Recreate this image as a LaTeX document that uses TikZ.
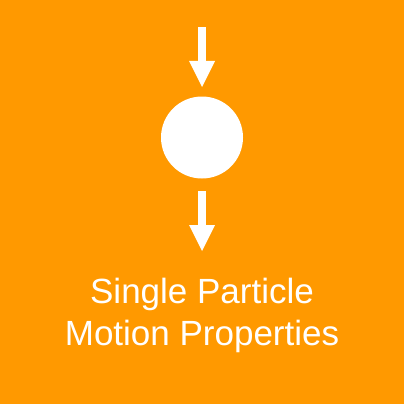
\documentclass[tikz,border=0pt]{standalone}
\usepackage{fontspec}
\setmainfont{Liberation Sans}
\definecolor{bgorange}{HTML}{FF9900}
\begin{document}
\begin{tikzpicture}[x=1pt,y=-1pt,
  shape fill/.style={fill=white,draw=none},
  label text/.style={text=white,font=\fontsize{35}{42}\selectfont,inner sep=0pt,anchor=base}]
\fill[bgorange] (0,0) rectangle (404,404);
\useasboundingbox (0,0) rectangle (404,404);
% top arrow
\fill[white] (198,27) rectangle (206,62);
\fill[white] (189,61) -- (215,61) -- (202,87) -- cycle;
% particle
\node[circle,fill=white,minimum size=82pt,inner sep=0pt] (particle) at (202,137.5) {};
% bottom arrow
\fill[white] (198,191) rectangle (206,226);
\fill[white] (189,225) -- (215,225) -- (202,251) -- cycle;
% label
\node[label text] (line1) at (202,303) {Single Particle};
\node[label text] (line2) at (202,345) {Motion Properties};
\end{tikzpicture}
\end{document}
